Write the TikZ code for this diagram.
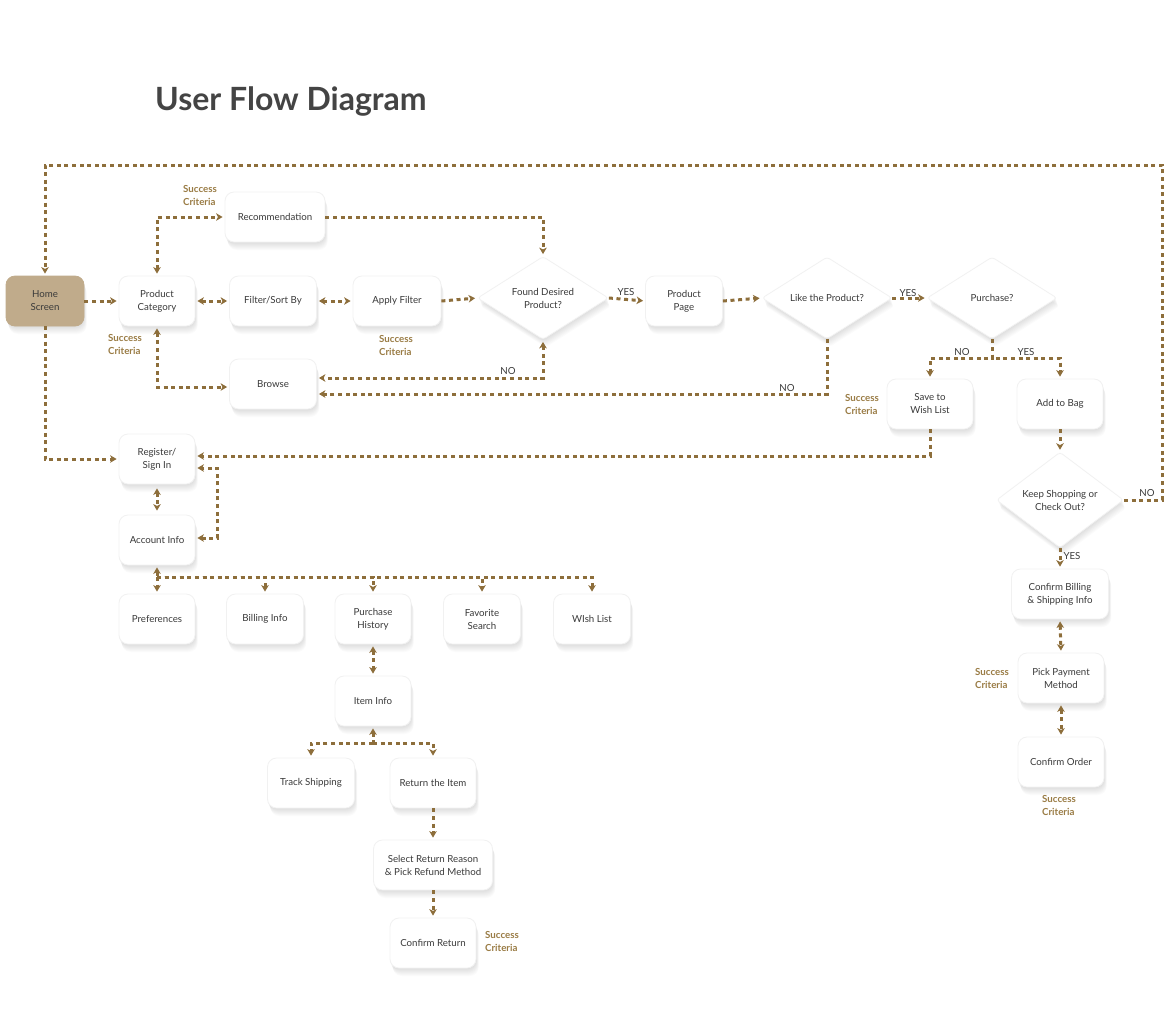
\documentclass[tikz,border=0pt]{standalone}
\usepackage{fontspec}
\setmainfont{Lato}
\usetikzlibrary{shapes.geometric,arrows.meta,calc}
\definecolor{gold}{HTML}{8D6E3B}
\definecolor{sc}{HTML}{9A7C45}
\definecolor{txt}{HTML}{3A3A3A}
\definecolor{tanfill}{HTML}{C0AB8B}
\definecolor{ttl}{HTML}{444444}
\definecolor{rim}{HTML}{F1F1F1}
\begin{document}
\begin{tikzpicture}[x=1pt,y=-1pt,
  sh/.style={preaction={fill=black, opacity=0.014, transform canvas={xshift=#1*0.35pt,yshift=-#1*1pt}}},
  softshadow/.style={sh=1,sh=2,sh=3,sh=4,sh=5,sh=6,sh=7,sh=8},
  boxw/.style={rounded corners=9pt, fill=white, draw=rim, line width=0.8pt, minimum width=#1, minimum height=50pt, inner sep=0pt, align=center, font=\fontsize{9.7}{13}\selectfont, text=txt, softshadow},
  dia/.style 2 args={diamond, rounded corners=3pt, fill=white, draw=rim, line width=0.8pt, minimum width=#1, minimum height=#2, inner sep=0pt, align=center, font=\fontsize{9.7}{13}\selectfont, text=txt, softshadow},
  succ/.style={font=\bfseries\fontsize{9.7}{13}\selectfont, text=sc, align=left, inner sep=0pt},
  lbl/.style={font=\fontsize{9.7}{11}\selectfont, text=txt, inner sep=0pt},
  conn/.style={draw=gold, line width=3pt, dash pattern=on 4pt off 3.6pt},
  arr/.style={conn, -{Stealth[length=6.5pt,width=7.5pt,inset=1.8pt]}, shorten >=2pt},
  darr/.style={conn, {Stealth[length=6.5pt,width=7.5pt,inset=1.8pt]}-{Stealth[length=6.5pt,width=7.5pt,inset=1.8pt]}, shorten >=2pt, shorten <=2pt},
  rarr/.style={conn, {Stealth[length=6.5pt,width=7.5pt,inset=1.8pt]}-, shorten <=2pt}
]
\useasboundingbox[fill=white] (0,0) rectangle (1170,1021);

% title
\node[anchor=base west, inner sep=0pt, font=\bfseries\fontsize{32}{38}\selectfont, text=ttl] (title) at (155,110) {User Flow Diagram};

% top row
\node[boxw=78pt, fill=tanfill, draw=tanfill] (home) at (45,301) {Home\\Screen};
\node[boxw=76pt] (pc) at (157,301) {Product\\Category};
\node[boxw=100pt] (rec) at (275,217) {Recommendation};
\node[boxw=87pt] (filt) at (273,301) {Filter/Sort By};
\node[boxw=87pt] (browse) at (273,384) {Browse};
\node[boxw=88pt] (apply) at (397,301) {Apply Filter};
\node[dia={131pt}{83pt}] (found) at (543,298) {Found Desired\\Product?};
\node[boxw=77pt] (pp) at (684,301) {Product\\Page};
\node[dia={130pt}{82pt}] (like) at (827,298) {Like the Product?};
\node[dia={130pt}{82pt}] (purch) at (992,298) {Purchase?};
\node[boxw=86pt] (save) at (930,404) {Save to\\Wish List};
\node[boxw=86pt] (bag) at (1060,404) {Add to Bag};
\node[dia={127pt}{84pt}] (keep) at (1060,500) {Keep Shopping or\\Check Out?};
\node[boxw=97pt] (conf) at (1060,594) {Confirm Billing\\\& Shipping Info};
\node[boxw=86pt] (pick) at (1061,678) {Pick Payment\\Method};
\node[boxw=86pt] (order) at (1061,762) {Confirm Order};

% account section
\node[boxw=76pt] (reg) at (157,459) {Register/\\Sign In};
\node[boxw=76pt] (acc) at (157,540) {Account Info};
\node[boxw=76pt] (pref) at (157,619) {Preferences};
\node[boxw=77pt] (bill) at (265,619) {Billing Info};
\node[boxw=76pt] (ph) at (373,619) {Purchase\\History};
\node[boxw=77pt] (fav) at (482,619) {Favorite\\Search};
\node[boxw=77pt] (wish) at (592,619) {WIsh List};
\node[boxw=76pt] (item) at (373,701) {Item Info};
\node[boxw=87pt] (track) at (311,783) {Track Shipping};
\node[boxw=86pt] (ret) at (433,783) {Return the Item};
\node[boxw=119pt] (sel) at (433,865) {Select Return Reason\\\& Pick Refund Method};
\node[boxw=86pt] (cret) at (433,943) {Confirm Return};

% success criteria
\node[succ] (s1) at (200,195) {Success\\Criteria};
\node[succ] (s2) at (125,344) {Success\\Criteria};
\node[succ] (s3) at (396,345) {Success\\Criteria};
\node[succ] (s4) at (862,404) {Success\\Criteria};
\node[succ] (s5) at (992,678) {Success\\Criteria};
\node[succ] (s6) at (1059,805) {Success\\Criteria};
\node[succ] (s7) at (502,941) {Success\\Criteria};

% yes/no labels
\node[lbl] (l1) at (626,292) {YES};
\node[lbl] (l2) at (508,371) {NO};
\node[lbl] (l3) at (787,388) {NO};
\node[lbl] (l4) at (908,293) {YES};
\node[lbl] (l5) at (962,352) {NO};
\node[lbl] (l6) at (1026,352) {YES};
\node[lbl] (l7) at (1147,493) {NO};
\node[lbl] (l8) at (1072,556) {YES};

% helper coordinates
\coordinate (topR) at (1162,165);
\coordinate (topL) at (45,165);
\coordinate (t1) at (157,577);
\coordinate (t2) at (373,743);

% connectors, main row
\draw[arr] (home.east) -- (pc.west);
\draw[darr] (pc.east) -- (filt.west);
\draw[darr] (filt.east) -- (apply.west);
\draw[arr] (apply.east) -- (found.west);
\draw[arr] (found.east) -- (pp.west);
\draw[arr] (pp.east) -- (like.west);
\draw[arr] (like.east) -- (purch.west);
\draw[darr] (pc.north) |- (rec.west);
\draw[arr] (rec.east) -| (found.north);
\draw[darr] (pc.south) |- ([yshift=-3pt]browse.west);
\draw[darr] (found.south) |- ([yshift=6pt]browse.east);
\draw[arr] (like.south) |- ([yshift=-10pt]browse.east);
\draw[arr] (purch.south) -- ++(0,19) -| (save.north);
\draw[arr] (purch.south) -- ++(0,19) -| (bag.north);
\draw[arr] (save.south) |- ([yshift=3pt]reg.east);
\draw[arr] (bag.south) -- (keep.north);
\draw[arr] (keep.east) -| (topR) -- (topL) -- (home.north);
\draw[arr] (keep.south) -- (conf.north);
\draw[darr] (conf.south) -- (pick.north);
\draw[darr] (pick.south) -- (order.north);

% account connectors
\draw[arr] (home.south) |- (reg.west);
\draw[darr, shorten >=4pt, shorten <=4pt] (reg.south) -- (acc.north);
\draw[darr] ([yshift=2pt]acc.east) -- ++(22,0) |- ([yshift=-9pt]reg.east);
\draw[rarr] (acc.south) -- (t1);
\draw[arr] (t1) -- (pref.north);
\draw[arr] (t1) -| (bill.north);
\draw[arr] (t1) -| (ph.north);
\draw[arr] (t1) -| (fav.north);
\draw[arr] (t1) -| (wish.north);
\draw[darr] (ph.south) -- (item.north);
\draw[rarr] (item.south) -- (t2);
\draw[arr] (t2) -| (track.north);
\draw[arr] (t2) -| (ret.north);
\draw[arr] (ret.south) -- (sel.north);
\draw[arr] (sel.south) -- (cret.north);
\end{tikzpicture}
\end{document}
